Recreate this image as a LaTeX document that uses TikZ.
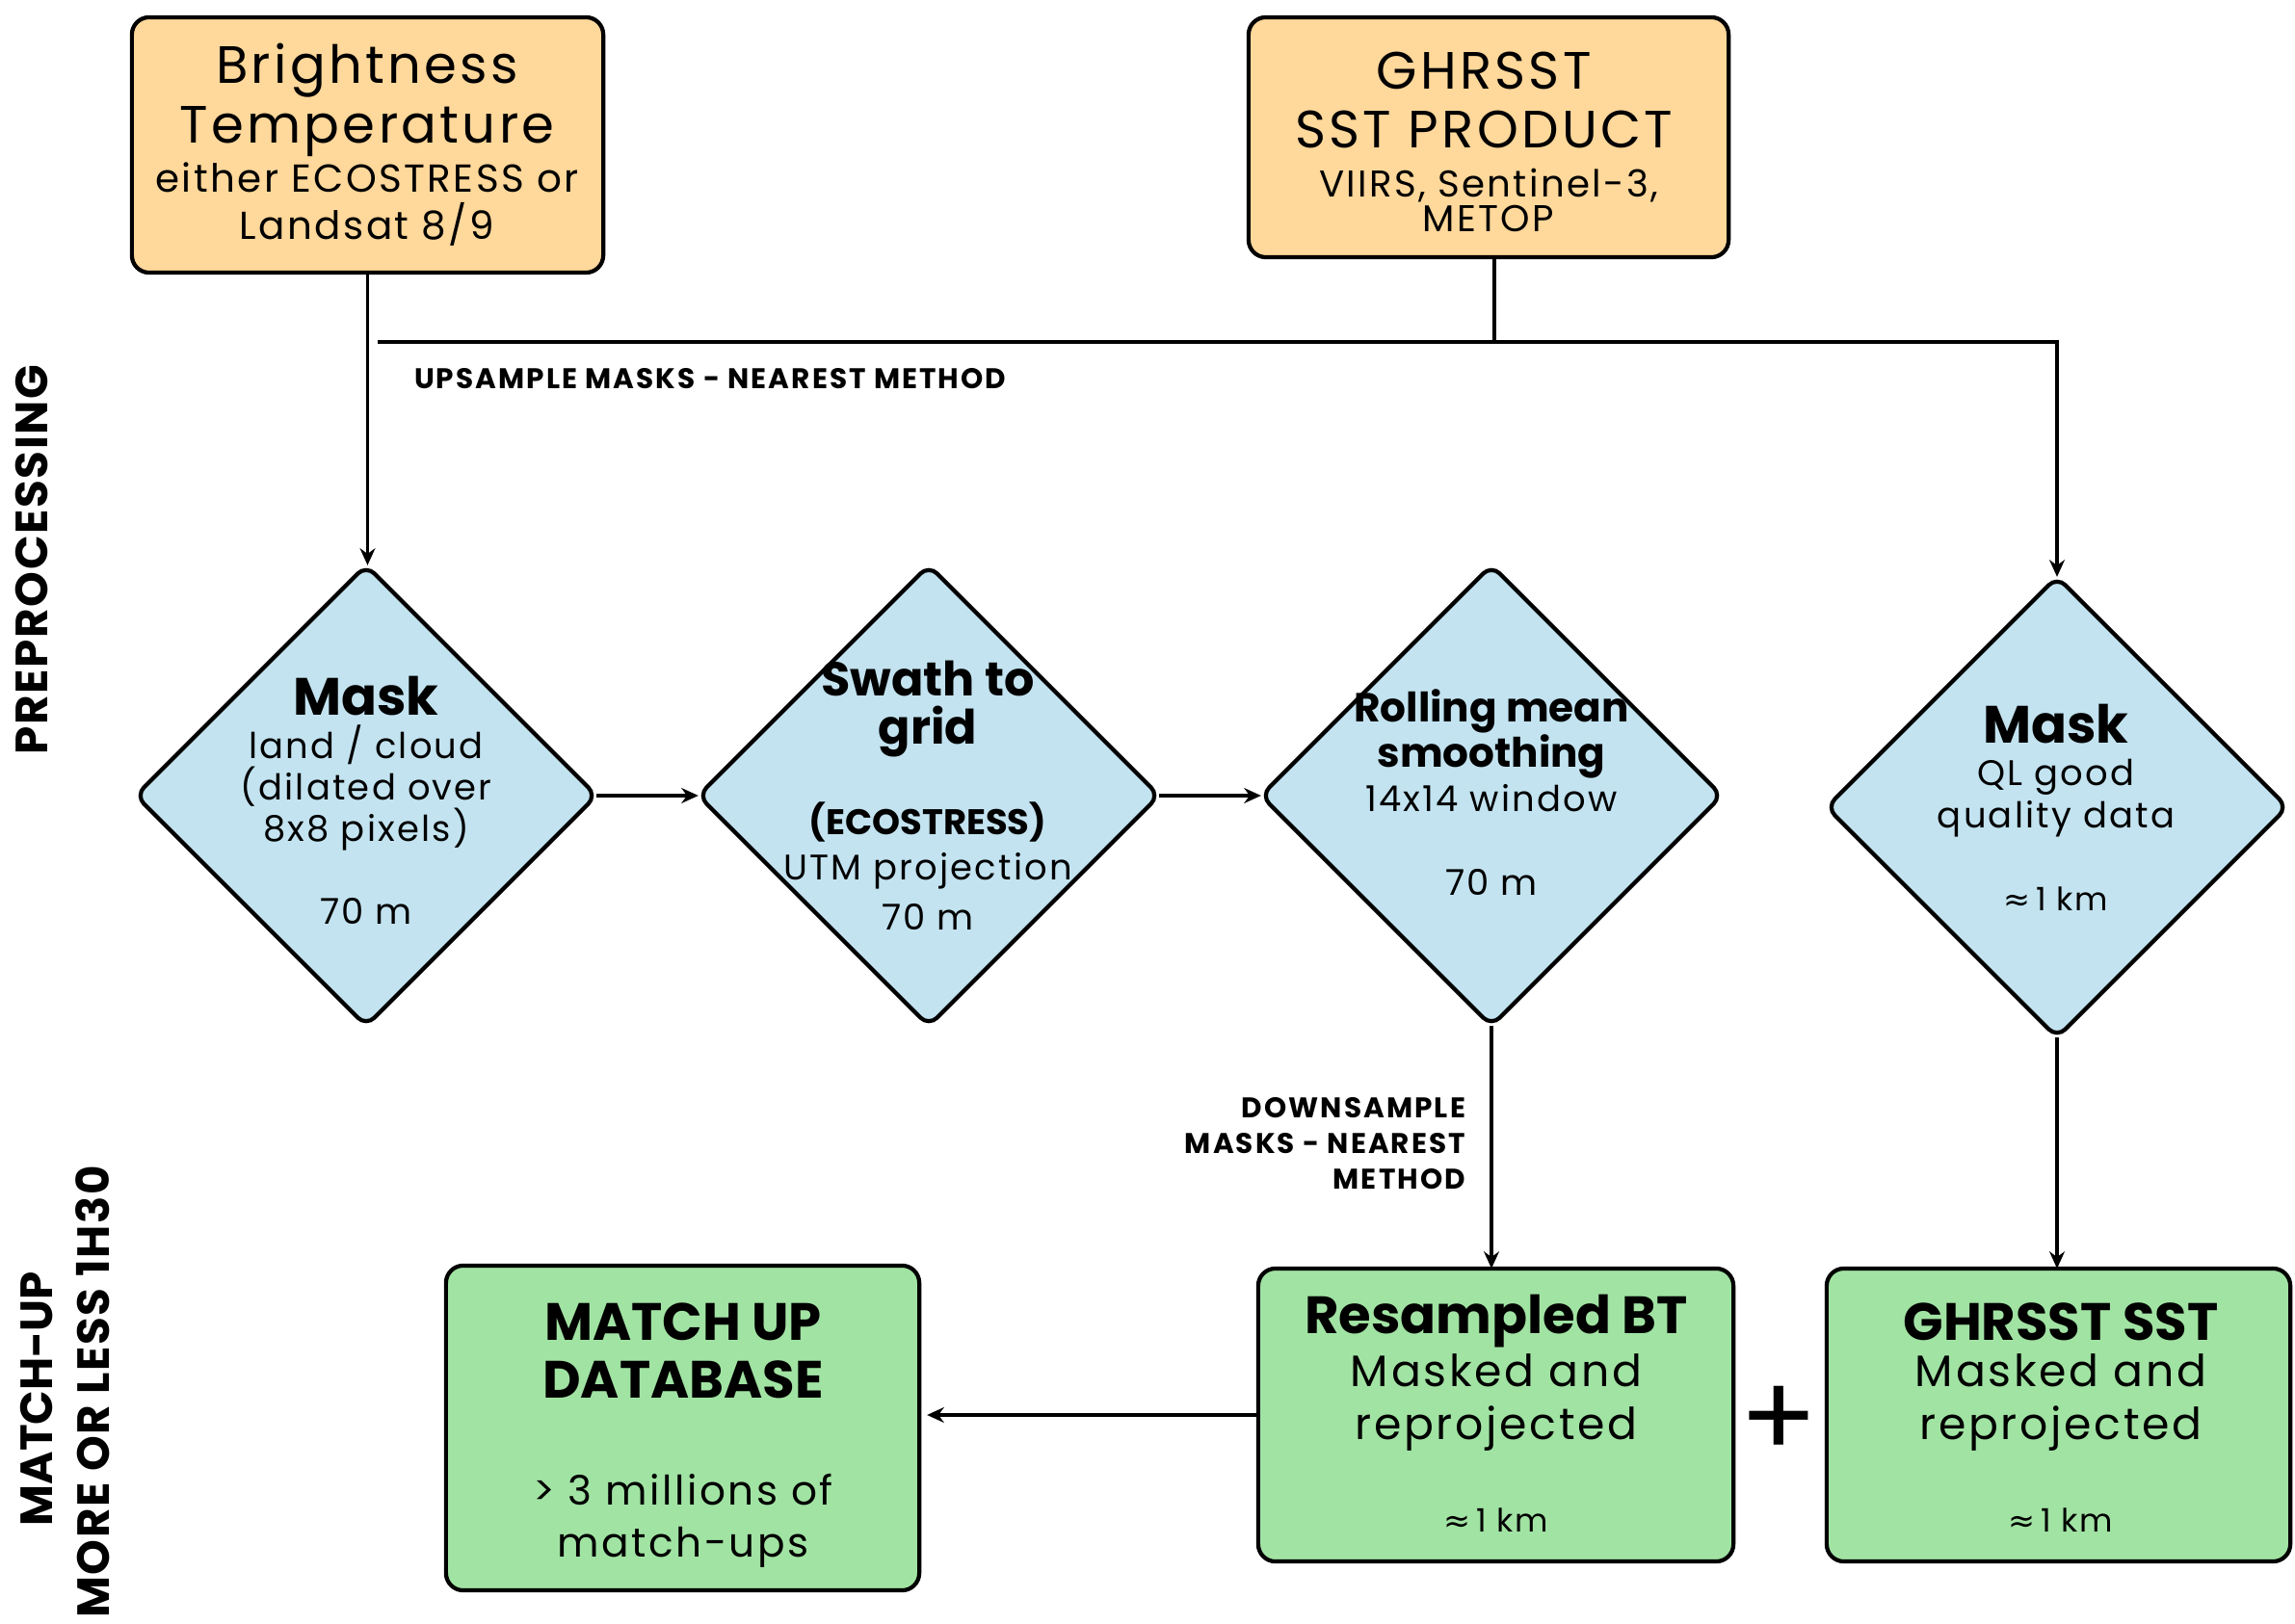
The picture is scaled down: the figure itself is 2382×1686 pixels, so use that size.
\documentclass[tikz,border=0pt]{standalone}
\usepackage{fontspec}
\setmainfont{Poppins}
\newfontfamily\bodyf{Poppins}[LetterSpace=6]
\newfontfamily\headf{Poppins}
\newfontfamily\lblf{Poppins}[LetterSpace=7]
\newfontfamily\vertf{Poppins}[LetterSpace=3.5]
\newfontfamily\symf{DejaVu Sans}
\usetikzlibrary{shapes.geometric,arrows.meta,calc}
\definecolor{orF}{RGB}{255,216,155}
\definecolor{blF}{RGB}{195,227,240}
\definecolor{grF}{RGB}{161,227,163}
\tikzset{
  every node/.style={inner sep=0pt, outer sep=0pt},
  box/.style={draw=black, line width=1.2pt, rounded corners=0.18cm},
  dia/.style={draw=black, line width=1.2pt, fill=blF, shape=diamond, aspect=1,
    rounded corners=0.12cm, minimum width=4.78cm, minimum height=4.78cm},
  tr/.style 2 args={align=center, font=\bodyf\fontsize{#1}{#2}\selectfont},
  tb/.style 2 args={align=center, font=\headf\bfseries\fontsize{#1}{#2}\selectfont},
  lbl/.style={font=\lblf\bfseries\fontsize{8.4}{10.5}\selectfont},
  vl/.style={font=\vertf\bfseries\fontsize{13.3}{15.9}\selectfont},
  vlw/.style={font=\headf\bfseries\fontsize{13.3}{15.9}\selectfont},
  ln/.style={line width=1pt},
  arr/.style={line width=1pt, -{Stealth[length=5pt,width=4.5pt]}}
}
\begin{document}
\begin{tikzpicture}[x=0.01cm,y=-0.01cm]
\useasboundingbox (0,0) rectangle (2382,1686);
% shapes
\node[box, fill=orF, minimum width=4.89cm, minimum height=2.65cm] (bt) at (381.5,150.5) {};
\node[box, fill=orF, minimum width=4.98cm, minimum height=2.49cm] (gh) at (1545,142.5) {};
\node[dia] (d1) at (380,826) {};
\node[dia] (d2) at (964,826) {};
\node[dia] (d3) at (1548,826) {};
\node[dia] (d4) at (2135,838) {};
\node[box, fill=grF, minimum width=4.91cm, minimum height=3.37cm] (mu) at (708.5,1482.5) {};
\node[box, fill=grF, minimum width=4.93cm, minimum height=3.04cm] (rbt) at (1552.5,1469) {};
\node[box, fill=grF, minimum width=4.81cm, minimum height=3.04cm] (gsst) at (2136.5,1469) {};
% texts
\node[tr={15.5}{17.6}] (bt-a) at (381,104) {Brightness\\Temperature};
\node[tr={11.5}{13.9}] (bt-b) at (381,212) {either ECOSTRESS or\\Landsat 8/9};
\node[tr={15.5}{17.6}] (gh-a) at (1540,104) {GHRSST\\SST PRODUCT};
\node[tr={11}{10.2}] (gh-b) at (1545,208) {VIIRS, Sentinel-3,\\METOP};
\node[tb={15.5}{18}] (d1-a) at (380,723) {Mask};
\node[tr={10.5}{12.2}] (d1-b) at (380,818) {land / cloud\\(dilated over\\8x8 pixels)};
\node[tr={10.5}{12}] (d1-c) at (380,946) {70 m};
\node[tb={14}{14.2}] (d2-a) at (963,736) {Swath to\\grid};
\node[tb={10.5}{12}] (d2-b) at (963,854) {(ECOSTRESS)};
\node[tr={10.5}{14.8}] (d2-c) at (963,925) {UTM projection\\70 m};
\node[tb={12}{13.4}] (d3-a) at (1548,762) {Rolling mean\\smoothing};
\node[tr={10.5}{12}] (d3-b) at (1548,829) {14x14 window};
\node[tr={10.5}{12}] (d3-c) at (1548,916) {70 m};
\node[tb={15.5}{18}] (d4-a) at (2134,752) {Mask};
\node[tr={10.5}{12.5}] (d4-b) at (2134,829) {QL good\\quality data};
\node[tr={9.5}{11}] (d4-c) at (2134,933) {{\symf ≈}\,1 km};
\node[tb={15.5}{17}] (mu-a) at (709,1402) {MATCH UP\\DATABASE};
\node[tr={12}{15.4}] (mu-b) at (709,1579) {> 3 millions of\\match-ups};
\node[tb={15.5}{18}] (rbt-a) at (1553,1372) {Resampled BT};
\node[tr={13}{15.4}] (rbt-b) at (1553,1456) {Masked and\\reprojected};
\node[tr={9.5}{11}] (rbt-c) at (1553,1578) {{\symf ≈}\,1 km};
\node[tb={15.5}{18}] (gs-a) at (2139,1372) {GHRSST SST};
\node[tr={13}{15.4}] (gs-b) at (2139,1456) {Masked and\\reprojected};
\node[tr={9.5}{11}] (gs-c) at (2139,1578) {{\symf ≈}\,1 km};
\node[font=\headf\fontsize{34}{34}\selectfont] (plus) at (1846,1476) {+};
% labels
\node[lbl, anchor=west] (up) at (430,393) {UPSAMPLE MASKS - NEAREST METHOD};
\node[lbl, align=right, anchor=east] (down) at (1521,1187) {DOWNSAMPLE\\MASKS - NEAREST\\METHOD};
\node[vl, rotate=90] (pre) at (33,581) {PREPROCESSING};
\node[vlw, rotate=90] (mat) at (38,1452) {MATCH-UP};
\node[vl, rotate=90] (mol) at (96,1445) {MORE OR LESS 1H30};
% connectors
\coordinate (hl) at (392,355);
\coordinate (hr) at (d4.north |- hl);
\draw[arr] (bt.south) -- (bt.south |- d1.north);
\draw[ln] ([xshift=0.06cm]gh.south) -- ([xshift=0.06cm]gh.south |- hl);
\draw[arr] (hl) -- (hr) -- (d4.north);
\draw[arr] (d1.east) -- (d2.west);
\draw[arr] (d2.east) -- (d3.west);
\draw[arr] (d3.south) -- (d3.south |- rbt.north);
\draw[arr] (d4.south) -- (d4.south |- gsst.north);
\draw[arr, shorten >=0.08cm] (rbt.west) -- (rbt.west -| mu.east);
\end{tikzpicture}
\end{document}
